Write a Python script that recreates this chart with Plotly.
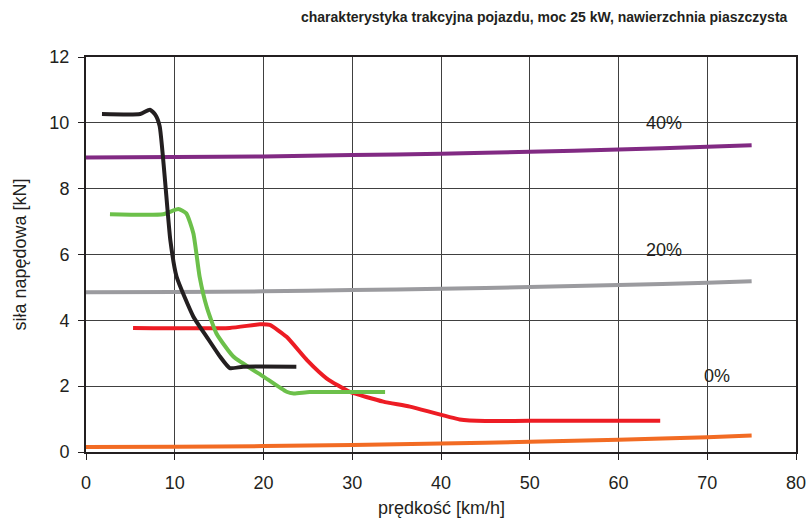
import plotly.graph_objects as go

# data (speed km/h, force kN)
black_x = [1.8, 6.1, 7.2, 7.8, 8.3, 9.5, 10.2, 12.1, 13.6, 15.1, 16.2, 17.7, 23.7]
black_y = [10.27, 10.27, 10.40, 10.25, 9.9, 6.44, 5.33, 4.11, 3.5, 2.9, 2.55, 2.59, 2.59]

green_x = [2.7, 8.7, 10.4, 11.3, 12.1, 12.8, 13.6, 14.7, 16.6, 20.0, 22.6, 23.4, 25.2, 33.7]
green_y = [7.22, 7.22, 7.38, 7.25, 6.64, 5.33, 4.41, 3.6, 2.9, 2.29, 1.83, 1.78, 1.82, 1.82]

red_x = [5.3, 16.2, 19.6, 20.7, 22.6, 24.9, 27.1, 29.7, 33.5, 36.5, 42.1, 45.0, 50.0, 64.7]
red_y = [3.77, 3.77, 3.88, 3.86, 3.5, 2.79, 2.24, 1.83, 1.53, 1.38, 0.99, 0.94, 0.95, 0.95]

res_x = [0, 10, 20, 30, 40, 50, 60, 70, 75]
purple_y = [8.95, 8.96, 8.98, 9.02, 9.06, 9.12, 9.19, 9.27, 9.32]
gray_y = [4.85, 4.86, 4.88, 4.92, 4.96, 5.01, 5.07, 5.14, 5.19]
orange_y = [0.15, 0.16, 0.18, 0.21, 0.26, 0.31, 0.37, 0.45, 0.50]

labels = ["40%", "20%", "0%"]
label_x = [65.1, 65.1, 71.1]
label_y = [10.0, 6.15, 2.3]

x_ticks = [0, 10, 20, 30, 40, 50, 60, 70, 80]
y_ticks = [0, 2, 4, 6, 8, 10, 12]

FONT = "Liberation Sans, Arial, sans-serif"
INK = "#231f20"

fig = go.Figure()
lw = 4
for xs, ys, col in [
    (res_x, orange_y, "#f26b23"),
    (res_x, gray_y, "#9b9b9f"),
    (res_x, purple_y, "#812a83"),
    (red_x, red_y, "#ed1c24"),
    (green_x, green_y, "#6cc04a"),
    (black_x, black_y, INK),
]:
    fig.add_trace(go.Scatter(x=xs, y=ys, mode="lines",
                             line=dict(color=col, width=lw, shape="spline", smoothing=0.5),
                             showlegend=False, hoverinfo="skip"))

for t, lx, ly in zip(labels, label_x, label_y):
    fig.add_annotation(x=lx, y=ly, text=t, showarrow=False,
                       font=dict(size=18, color=INK, family=FONT))

fig.add_annotation(xref="paper", yref="paper", x=1.0, y=1.0, xanchor="right", yanchor="middle",
                   yshift=40, xshift=-6,
                   text="<b>charakterystyka trakcyjna pojazdu, moc 25 kW, nawierzchnia piaszczysta</b>",
                   showarrow=False, font=dict(size=14, color=INK, family=FONT))

# axis titles
fig.add_annotation(xref="paper", yref="paper", x=0.5, y=0, yshift=-56, xanchor="center", yanchor="middle",
                   text="prędkość [km/h]", showarrow=False, font=dict(size=18, color=INK, family=FONT))
fig.add_annotation(xref="paper", yref="paper", x=0, y=0.5, xshift=-67, xanchor="center", yanchor="middle",
                   textangle=-90, text="siła napędowa [kN]", showarrow=False,
                   font=dict(size=18, color=INK, family=FONT))

axis_font = dict(size=18, color=INK, family=FONT)
fig.update_xaxes(range=[0, 80], tickvals=x_ticks, showgrid=True, gridcolor="#404040", gridwidth=1,
                 showline=True, linecolor=INK, linewidth=2, mirror=True, automargin=False,
                 ticks="outside", ticklen=6, tickcolor=INK, tickfont=axis_font, zeroline=False,
                 ticklabelstandoff=7)
fig.update_yaxes(range=[0, 12], tickvals=y_ticks, showgrid=True, gridcolor="#404040", gridwidth=1,
                 showline=True, linecolor=INK, linewidth=2, mirror=True, automargin=False,
                 ticks="outside", ticklen=6, tickcolor=INK, tickfont=axis_font, zeroline=False,
                 ticklabelstandoff=5)

fig.update_layout(width=809, height=522, margin=dict(l=86, r=13, t=57, b=70, autoexpand=False),
                  plot_bgcolor="white", paper_bgcolor="white")

fig.write_html("out.html", config={"displayModeBar": False},
               post_script="document.body.style.margin='0';document.body.style.overflow='hidden';")
